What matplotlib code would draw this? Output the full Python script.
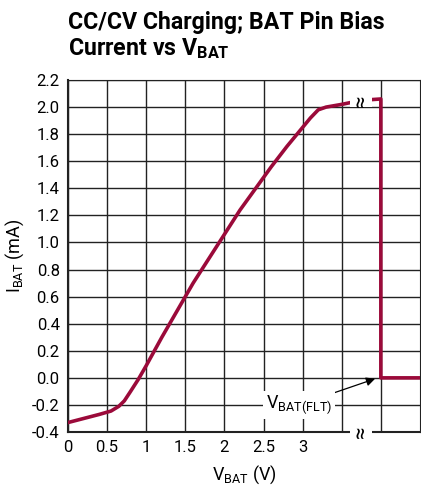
import numpy as np
import matplotlib.pyplot as plt

# curve (V, mA)
v_bat = [0.0, 0.2, 0.4, 0.55, 0.65, 0.72, 0.8, 0.9, 1.0, 1.2, 1.4, 1.6, 1.8, 2.0, 2.2, 2.4, 2.6,
         2.8, 3.0, 3.1, 3.2, 3.3, 3.5, 3.75, 4.0, 4.0, 4.5]
i_bat = [-0.33, -0.30, -0.27, -0.245, -0.21, -0.17, -0.10, -0.01, 0.09, 0.30, 0.50, 0.70, 0.88,
         1.06, 1.24, 1.40, 1.56, 1.71, 1.85, 1.92, 1.98, 2.00, 2.02, 2.05, 2.06, 0.0, 0.0]

x_ticks = [0, 0.5, 1, 1.5, 2, 2.5, 3, 3.5, 4]
x_labels = ['0', '0.5', '1', '1.5', '2', '2.5', '3', '', '']
y_ticks = np.arange(-0.4, 2.21, 0.2)

plt.rcParams['font.family'] = ['Roboto', 'DejaVu Sans']
plt.rcParams['mathtext.fontset'] = 'custom'
plt.rcParams['mathtext.rm'] = 'Roboto'

fig = plt.figure(figsize=(4.21, 4.93), dpi=100)
ax = fig.add_axes([0.1615, 0.1237, 0.836, 0.714])

ax.plot(v_bat, i_bat, color='#9b0a3a', lw=2.6, solid_joinstyle='round', zorder=3)

ax.set_xlim(0, 4.5)
ax.set_ylim(-0.4, 2.2)
ax.set_xticks(x_ticks)
ax.set_xticklabels(x_labels)
ax.set_yticks(y_ticks)
ax.set_yticklabels(['%.1f' % t for t in y_ticks])
ax.tick_params(length=0, labelsize=12, pad=6)
ax.grid(True, color='#222222', lw=1)
for s in ax.spines.values():
    s.set_color('#222222')
ax.spines['bottom'].set_linewidth(1.5)
ax.spines['left'].set_linewidth(1.5)

ax.set_xlabel(r'$\mathregular{V_{BAT}}$ (V)', fontsize=13, labelpad=6)
ax.set_ylabel(r'$\mathregular{I_{BAT}}$ (mA)', fontsize=13, labelpad=4)

# axis break marks
for yb in (2.05, -0.4):
    ax.text(3.75, yb, '\u2248', rotation=90, ha='center', va='center', fontsize=16,
            bbox=dict(facecolor='white', edgecolor='none', pad=0.3), zorder=4)

ax.annotate(r'$\mathregular{V_{BAT(FLT)}}$', xy=(3.96, 0.0), xytext=(2.95, -0.2),
            fontsize=13, ha='center', va='center',
            bbox=dict(facecolor='white', edgecolor='none', pad=2),
            arrowprops=dict(arrowstyle='-|>', color='black', lw=0.9,
                            shrinkA=0, shrinkB=2), zorder=5)

fig.text(0.1615, 0.978, 'CC/CV Charging; BAT Pin Bias\nCurrent vs $\\mathregular{V_{BAT}}$',
         fontsize=16.7, fontweight='bold', va='top', ha='left', linespacing=1.1)

fig.savefig('out.png', dpi=100)
